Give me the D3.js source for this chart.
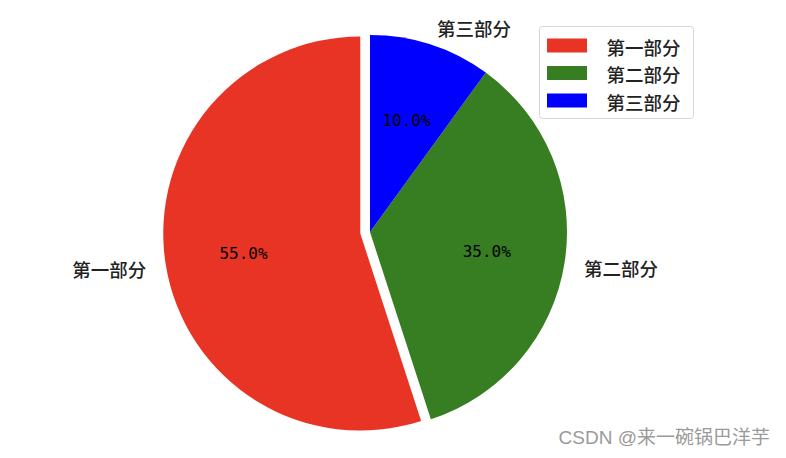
<!DOCTYPE html>
<html>
<head>
<meta charset="utf-8">
<script src="https://cdn.jsdelivr.net/npm/d3@7"></script>
<style>
  html, body { margin: 0; padding: 0; background: #fff; }
  svg { display: block; }
</style>
</head>
<body>
<div id="chart"></div>
<script>
// ── Data ────────────────────────────────────────────────────
const labels  = ["第一部分", "第二部分", "第三部分"];
const values  = [55, 35, 10];
const colors  = ["#e83424", "#377d22", "#0000ff"];
const explode = [0.05, 0, 0];

const W = 786, H = 458;
const cx = 370, cy = 232, R = 197;
const LABEL_FONT = "'Noto Sans CJK SC', 'Noto Sans', sans-serif";

const svg = d3.select("#chart").append("svg")
  .attr("width", W).attr("height", H);

// matplotlib style: start at top, go counterclockwise
const pie = d3.pie().sort(null).startAngle(0).endAngle(-2 * Math.PI);
const arcs = pie(values);
const arc = d3.arc().innerRadius(0).outerRadius(R);

const total = d3.sum(values);
const g = svg.append("g").attr("transform", `translate(${cx},${cy})`);

arcs.forEach((d, i) => {
  const mid = (d.startAngle + d.endAngle) / 2;
  const ux = Math.sin(mid), uy = -Math.cos(mid);
  const off = explode[i] * R;
  const ox = ux * off, oy = uy * off;

  // Wedge
  g.append("path")
    .attr("d", arc(d))
    .attr("transform", `translate(${ox},${oy})`)
    .attr("fill", colors[i]);

  // Outer label
  const lx = ox + ux * R * 1.1, ly = oy + uy * R * 1.1;
  g.append("text")
    .attr("x", lx).attr("y", ly + 2)
    .attr("text-anchor", lx < 0 ? "end" : "start")
    .attr("dominant-baseline", "central")
    .attr("font-family", LABEL_FONT)
    .attr("font-size", 18.5)
    .attr("font-weight", 500)
    .attr("fill", "#222")
    .text(labels[i]);

  // Percent label
  const px = ox + ux * R * 0.6, py = oy + uy * R * 0.6;
  g.append("text")
    .attr("x", px).attr("y", py + 1)
    .attr("text-anchor", "middle")
    .attr("dominant-baseline", "central")
    .attr("font-family", "'DejaVu Sans Mono', monospace")
    .attr("font-size", 16)
    .attr("fill", "#000")
    .text((values[i] / total * 100).toFixed(1) + "%");
});

// ── Legend ─────────────────────────────────────────────────
const lg = svg.append("g").attr("transform", "translate(539.5,26.5)");
lg.append("rect")
  .attr("width", 154).attr("height", 92).attr("rx", 3)
  .attr("fill", "#fff").attr("fill-opacity", 0.8)
  .attr("stroke", "#d6d6d6");

labels.forEach((name, i) => {
  const y = 12 + i * 27.5;
  lg.append("rect")
    .attr("x", 7.5).attr("y", y)
    .attr("width", 40).attr("height", 14)
    .attr("fill", colors[i]);
  lg.append("text")
    .attr("x", 67).attr("y", y + 8)
    .attr("dominant-baseline", "central")
    .attr("font-family", LABEL_FONT)
    .attr("font-size", 18.5)
    .attr("font-weight", 500)
    .attr("fill", "#222")
    .text(name);
});

// ── Watermark ──────────────────────────────────────────────
svg.append("text")
  .attr("x", 770).attr("y", 437)
  .attr("text-anchor", "end")
  .attr("dominant-baseline", "central")
  .attr("font-family", "'Liberation Sans', 'Noto Sans CJK SC', sans-serif")
  .attr("font-size", 19)
  .attr("fill", "#9a9a9a")
  .text("CSDN @来一碗锅巴洋芋");
</script>
</body>
</html>
